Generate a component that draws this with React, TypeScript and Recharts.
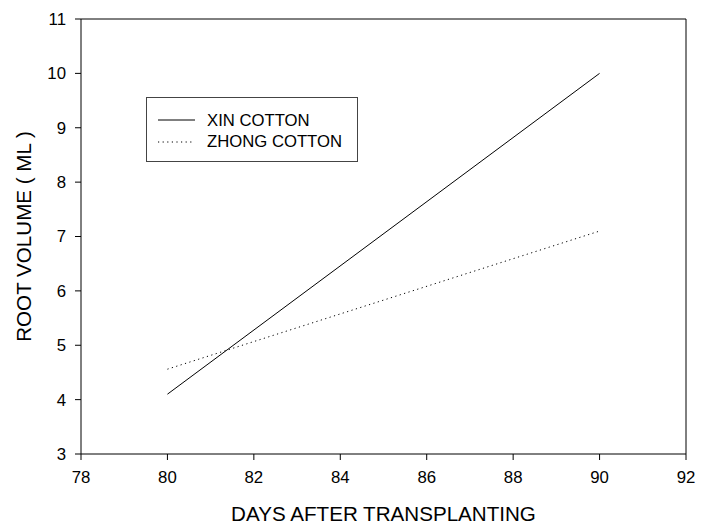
import React from "react";
import {
  LineChart,
  Line,
  XAxis,
  YAxis,
  Legend,
  ReferenceLine,
  Label,
} from "recharts";

// values
const days = [80, 90];
const xinCotton = [4.1, 10];
const zhongCotton = [4.56, 7.1];

const xTicks = [78, 80, 82, 84, 86, 88, 90, 92];
const yTicks = [3, 4, 5, 6, 7, 8, 9, 10, 11];

const data = days.map((d, i) => ({ day: d, xin: xinCotton[i], zhong: zhongCotton[i] }));

const FONT = "'Liberation Sans', Arial, sans-serif";
const DOTS = "1.2 3.4";

const LegendBox = () => (
  <div
    style={{
      width: 212,
      height: 65,
      border: "1px solid #444",
      boxSizing: "border-box",
      background: "#fff",
    }}
  >
    <svg width={210} height={63} style={{ display: "block" }}>
      <line x1={11} x2={48} y1={22} y2={22} stroke="#000" strokeWidth={1} />
      <text x={60} y={28} fontSize={16.7} fontFamily={FONT} fill="#000">
        XIN COTTON
      </text>
      <line x1={11} x2={47} y1={44} y2={44} stroke="#000" strokeWidth={1} strokeDasharray={DOTS} />
      <text x={60} y={49} fontSize={16.7} fontFamily={FONT} fill="#000">
        ZHONG COTTON
      </text>
    </svg>
  </div>
);

export default function App() {
  return (
    <div style={{ position: "absolute", left: 0, top: 0, background: "#fff" }}>
      <LineChart
        width={702}
        height={525}
        data={data}
        margin={{ top: 19, right: 16, bottom: 0, left: 0 }}
      >
        <XAxis
          dataKey="day"
          type="number"
          domain={[78, 92]}
          ticks={xTicks}
          height={71}
          stroke="#000"
          tickSize={6}
          tickMargin={11}
          tick={{ fill: "#000", fontSize: 16.8, fontFamily: FONT }}
        >
          <Label
            content={(props: any) => {
              const vb = props.viewBox;
              return (
                <text
                  x={vb.x + vb.width / 2}
                  y={vb.y + 66.5}
                  textAnchor="middle"
                  fontSize={20.6}
                  fontFamily={FONT}
                  fill="#000"
                >
                  DAYS AFTER TRANSPLANTING
                </text>
              );
            }}
          />
        </XAxis>
        <YAxis
          type="number"
          domain={[3, 11]}
          ticks={yTicks}
          width={81}
          stroke="#000"
          tickSize={6}
          tickMargin={9}
          tick={{ fill: "#000", fontSize: 16.8, fontFamily: FONT }}
        >
          <Label
            content={(props: any) => {
              const vb = props.viewBox;
              const cx = 31;
              const cy = vb.y + vb.height / 2;
              return (
                <text
                  x={cx}
                  y={cy}
                  transform={`rotate(-90, ${cx}, ${cy})`}
                  textAnchor="middle"
                  fontSize={20.6}
                  fontFamily={FONT}
                  fill="#000"
                >
                  ROOT VOLUME ( ML )
                </text>
              );
            }}
          />
        </YAxis>
        <ReferenceLine y={11} stroke="#000" strokeWidth={1} />
        <ReferenceLine x={92} stroke="#000" strokeWidth={1} />
        <Line
          dataKey="xin"
          name="XIN COTTON"
          type="linear"
          stroke="#000"
          strokeWidth={1}
          dot={false}
          isAnimationActive={false}
        />
        <Line
          dataKey="zhong"
          name="ZHONG COTTON"
          type="linear"
          stroke="#000"
          strokeWidth={1}
          strokeDasharray={DOTS}
          dot={false}
          isAnimationActive={false}
        />
        <Legend
          layout="horizontal"
          verticalAlign="middle"
          align="center"
          content={() => <LegendBox />}
          wrapperStyle={{ left: 146, top: 97, width: 212, height: 65, margin: 0 }}
        />
      </LineChart>
    </div>
  );
}
